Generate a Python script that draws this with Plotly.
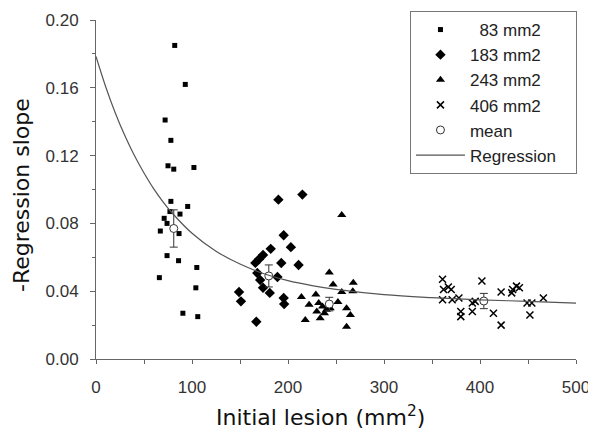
import plotly.graph_objects as go

# ---- data ----
sq_x = [82, 93, 72, 78, 75, 81, 102, 78, 95.5, 77, 87.5, 71, 74, 67, 86.5, 74, 86, 105, 66, 104, 90.5, 106]
sq_y = [0.185, 0.162, 0.141, 0.129, 0.114, 0.112, 0.113, 0.093, 0.090, 0.087, 0.0855, 0.083, 0.080, 0.0755,
        0.074, 0.061, 0.058, 0.054, 0.048, 0.042, 0.027, 0.025]

dm_x = [190, 215, 195.5, 182, 203, 166, 170, 174, 193, 211, 168, 189, 171, 174, 181, 149, 151, 195.5, 196, 167]
dm_y = [0.094, 0.097, 0.073, 0.065, 0.066, 0.0567, 0.059, 0.0614, 0.0566, 0.0555, 0.0507, 0.0484, 0.0466,
        0.042, 0.039, 0.0395, 0.034, 0.036, 0.0324, 0.022]

tr_x = [256, 243, 247, 268, 256, 267.5, 214, 229, 222, 252, 232, 236, 240, 230, 238, 244, 261, 265, 218, 233.5, 261]
tr_y = [0.085, 0.051, 0.044, 0.045, 0.0395, 0.040, 0.0366, 0.038, 0.032, 0.0336, 0.033, 0.031, 0.029, 0.028,
        0.027, 0.030, 0.030, 0.026, 0.023, 0.024, 0.019]

cr_x = [361, 362, 367, 370, 361, 371, 378, 380, 380, 392, 392, 395, 402, 414, 422, 422, 434, 438, 441, 433,
        449, 454, 452, 466]
cr_y = [0.047, 0.041, 0.0425, 0.041, 0.035, 0.035, 0.036, 0.028, 0.025, 0.033, 0.028, 0.034, 0.046, 0.027,
        0.0395, 0.020, 0.041, 0.043, 0.042, 0.039, 0.033, 0.033, 0.026, 0.036]

mean_x = [81, 180, 243, 404]
mean_y = [0.077, 0.049, 0.0324, 0.0342]
mean_err = [0.011, 0.0065, 0.004, 0.0045]

reg_x = [0, 10, 20, 30, 40, 50, 60, 70, 80, 100, 125, 150, 175, 200, 225, 250, 300, 350, 400, 450, 500]
reg_y = [0.1785, 0.1608, 0.1453, 0.1318, 0.120, 0.1097, 0.1005, 0.0926, 0.0857, 0.0742, 0.0636, 0.056,
         0.0503, 0.0462, 0.0433, 0.0411, 0.038, 0.0362, 0.0349, 0.034, 0.033]

x_ticks = [0, 100, 200, 300, 400, 500]
y_ticks = [0.00, 0.04, 0.08, 0.12, 0.16, 0.20]

NB = "\u00a0"
fig = go.Figure()
fig.add_trace(go.Scatter(x=sq_x, y=sq_y, mode="markers", name=NB * 2 + "83 mm2",
                         marker=dict(symbol="square", size=5, color="black")))
fig.add_trace(go.Scatter(x=dm_x, y=dm_y, mode="markers", name="183 mm2",
                         marker=dict(symbol="diamond", size=8, color="black")))
fig.add_trace(go.Scatter(x=tr_x, y=tr_y, mode="markers", name="243 mm2",
                         marker=dict(symbol="triangle-up", size=8, color="black")))
fig.add_trace(go.Scatter(x=cr_x, y=cr_y, mode="markers", name="406 mm2",
                         marker=dict(symbol="x-thin", size=7, color="black",
                                     line=dict(width=1.5, color="black"))))
fig.add_trace(go.Scatter(x=mean_x, y=mean_y, mode="markers", name="mean",
                         marker=dict(symbol="circle", size=8, color="white",
                                     line=dict(width=1, color="#333")),
                         error_y=dict(type="data", array=mean_err, visible=True,
                                      color="#333", thickness=1, width=4)))
fig.add_trace(go.Scatter(x=reg_x, y=reg_y, mode="lines", name="Regression" + NB * 3,
                         line=dict(color="#555", width=1.2, shape="spline")))

tick_font = dict(family="Liberation Sans, Arial, sans-serif", size=17, color="#333")
title_font = dict(family="DejaVu Sans, sans-serif", size=22, color="#111")

fig.update_layout(
    width=588, height=433,
    margin=dict(l=88, r=20, t=12, b=82, autoexpand=False),
    paper_bgcolor="white", plot_bgcolor="white",
    font=dict(family="Liberation Sans, Arial, sans-serif", color="#222"),
    showlegend=True,
    legend=dict(x=1.002, y=1.0265, xanchor="right", yanchor="top",
                bgcolor="white", bordercolor="#777", borderwidth=1,
                font=dict(size=17, color="#222"), itemwidth=49),
    xaxis=dict(range=[0, 500], tickvals=x_ticks, ticktext=[str(v) for v in x_ticks],
               showgrid=False, zeroline=False, showline=True, linecolor="#666", linewidth=1,
               ticks="outside", ticklen=4, tickcolor="#666", tickfont=tick_font,
               ticklabelstandoff=9, automargin=False, ticklabeloverflow="allow",
               minor=dict(dtick=50, ticks="outside", ticklen=4, tickcolor="#666")),
    yaxis=dict(range=[0, 0.20], tickvals=y_ticks, ticktext=["%.2f" % v for v in y_ticks],
               showgrid=False, zeroline=False, showline=True, linecolor="#666", linewidth=1,
               ticks="outside", ticklen=5, tickcolor="#666", tickfont=tick_font,
               ticklabelstandoff=8, automargin=False,
               minor=dict(dtick=0.02, ticks="outside", ticklen=3, tickcolor="#666")),
    annotations=[
        dict(text="Initial lesion (mm<sup>2</sup>)", xref="paper", yref="paper",
             x=0.467, y=-0.168, xanchor="center", yanchor="middle", showarrow=False,
             font=title_font),
        dict(text="-Regression slope", xref="paper", yref="paper", textangle=-90,
             x=-0.154, y=0.484, xanchor="center", yanchor="middle", showarrow=False,
             font=title_font),
    ],
)

fig.write_html("out.html")
